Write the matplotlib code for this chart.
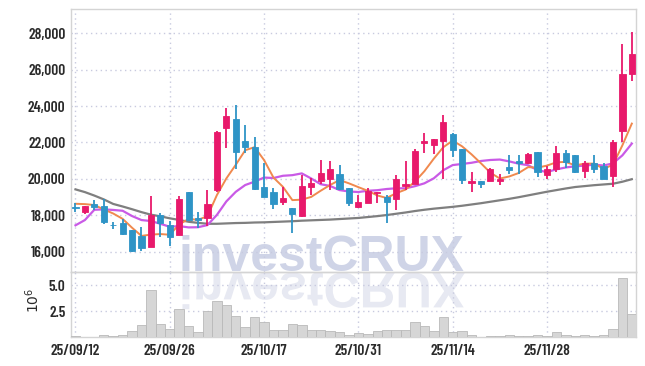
#!/usr/bin/env python3
import matplotlib
matplotlib.use("Agg")
import matplotlib.pyplot as plt
import numpy as np
from matplotlib.textpath import TextPath
from matplotlib.font_manager import FontProperties
from matplotlib.patches import PathPatch
from matplotlib.transforms import Affine2D
from matplotlib.ticker import FuncFormatter

# daily candles (index 0 = 25/09/12)
opens = [18440, 18190, 18600, 18500, 17480, 17550, 17190, 16860, 16270, 18000,
         17480, 16900, 19270, 17830, 17830, 19380, 22775, 23285, 22080, 21750,
         19550, 19260, 18740, 18395, 17955, 19570, 19900, 19975, 20265, 19495,
         18430, 18690, 19200, 18980, 18870, 19605, 19730, 21990, 21880, 22080,
         22480, 21640, 19790, 19880, 19900, 19900, 20670, 20960, 20890, 21470,
         20210, 20525, 21435, 21310, 20450, 20850, 20700, 20155, 22645, 25745]
highs = [18650, 18500, 18830, 18910, 17625, 17770, 17200, 17370, 19070, 18100,
         17660, 19070, 19300, 18160, 19380, 22600, 23870, 24050, 22955, 22300,
         20850, 19480, 19570, 18420, 20210, 20030, 21030, 21000, 20760, 19500,
         19090, 19480, 19290, 19090, 20210, 20960, 21620, 22535, 22200, 23500,
         22520, 21650, 20390, 19900, 20600, 20250, 21310, 21310, 21420, 21480,
         20700, 21820, 21580, 21320, 21000, 21310, 20880, 22130, 27390, 28060]
lows = [18190, 18060, 18290, 17515, 17260, 16930, 16000, 16050, 16250, 16780,
        16320, 16890, 17700, 17280, 17400, 19300, 21680, 20520, 21400, 19400,
        18980, 18320, 18560, 17010, 17900, 19090, 19700, 19380, 19400, 18520,
        18380, 18650, 18690, 17550, 18285, 19380, 19700, 21435, 21360, 19975,
        21215, 19700, 19290, 19480, 19880, 19660, 20265, 20265, 20800, 20085,
        19975, 20400, 20580, 20300, 20030, 20340, 20000, 19570, 22040, 25370]
closes = [18420, 18500, 18460, 17640, 17440, 16970, 16050, 16220, 18000, 17590,
          16780, 18890, 17730, 17740, 18615, 22570, 23450, 21490, 21730, 19460,
          19020, 18630, 18960, 18080, 19590, 19770, 20320, 20540, 19440, 18690,
          18725, 19320, 19260, 18740, 19990, 19730, 21525, 22095, 22190, 23120,
          21580, 19935, 19900, 19730, 20540, 19975, 20500, 20850, 21345, 20395,
          20540, 21415, 20945, 20395, 20890, 20525, 20010, 22020, 25760, 26860]

ma5 = [18630, 18610, 18560, 18320, 18094, 17802, 17312, 16864, 16936, 16966,
       16928, 17496, 17798, 17746, 17951, 19109, 20021, 20773, 21571, 21740,
       21030, 20066, 19560, 18830, 18856, 19006, 19344, 19660, 19932, 19752,
       19543, 19343, 19087, 18947, 19207, 19408, 19849, 20416, 21106, 21732,
       22102, 21784, 21345, 20853, 20337, 20016, 20129, 20319, 20642, 20613,
       20726, 20909, 20928, 20738, 20837, 20834, 20553, 20768, 21841, 23035]
ma10 = [17445, 17735, 18300, 18320, 18290, 18245, 17955, 17735, 17680, 17530,
        17365, 17404, 17331, 17341, 17459, 18019, 18759, 19286, 19659, 19846,
        20070, 20044, 20167, 20201, 20298, 20018, 19705, 19610, 19381, 19304,
        19275, 19344, 19374, 19440, 19480, 19476, 19596, 19752, 20027, 20470,
        20755, 20817, 20881, 20980, 21035, 21059, 20957, 20832, 20748, 20475,
        20371, 20519, 20624, 20690, 20725, 20780, 20731, 20848, 21290, 21936]
ma_long = [19420, 19270, 19080, 18870, 18620, 18480, 18330, 18170, 18030, 17940,
           17830, 17740, 17640, 17580, 17530, 17530, 17550, 17570, 17580, 17600,
           17610, 17630, 17650, 17670, 17700, 17720, 17740, 17760, 17790, 17820,
           17850, 17900, 17950, 18010, 18080, 18150, 18230, 18300, 18360, 18410,
           18460, 18520, 18590, 18660, 18740, 18820, 18900, 18990, 19090, 19190,
           19290, 19380, 19470, 19550, 19600, 19650, 19690, 19730, 19840, 19980]

# volume in millions of shares
volume = [0.16, 0.06, 0.06, 0.25, 0.10, 0.25, 0.60, 1.17, 4.50, 1.30,
          0.80, 2.68, 1.13, 0.55, 2.49, 3.45, 3.07, 2.10, 1.03, 2.00,
          1.52, 0.74, 0.74, 1.30, 1.20, 0.74, 0.71, 0.65, 0.55, 0.23,
          0.42, 0.33, 0.62, 0.74, 0.74, 0.74, 1.45, 1.13, 0.62, 1.93,
          0.55, 0.62, 0.23, 0.06, 0.10, 0.13, 0.23, 0.13, 0.13, 0.23,
          0.16, 0.52, 0.23, 0.16, 0.23, 0.16, 0.26, 0.81, 5.65, 2.26]

tick_pos = [0, 10, 20, 30, 40, 50]
tick_labels = ['25/09/12', '25/09/26', '25/10/17', '25/10/31', '25/11/14', '25/11/28']
price_ticks = [16000, 18000, 20000, 22000, 24000, 26000, 28000]
vol_ticks = [2.5, 5.0]

UP = '#e8196b'
DOWN = '#2e94c6'
GRID = '#c8cadf'
TXT = '#2a2a2a'
FONT = ['Barlow Condensed', 'Barlow Semi Condensed', 'Roboto Condensed', 'DejaVu Sans']

plt.rcParams['font.family'] = FONT

fig = plt.figure(figsize=(6.45, 3.66), dpi=100)
ax = fig.add_axes([0.110, 0.2568, 0.876, 0.7186])
axv = fig.add_axes([0.110, 0.0779, 0.876, 0.1789], sharex=ax)

x = np.arange(len(closes))
o = np.array(opens); c = np.array(closes)
cols = [UP if cc >= oo else DOWN for oo, cc in zip(o, c)]

ax.vlines(x, lows, highs, colors=cols, linewidth=1.3, zorder=3)
body_lo = np.minimum(o, c)
body_h = np.maximum(np.abs(c - o), 40)
ax.bar(x, body_h, bottom=body_lo, width=0.66, color=cols,
       edgecolor=cols, linewidth=0.6, zorder=4)

ax.plot(x, ma_long, color='#7f7f7f', linewidth=1.6, zorder=2)
ax.plot(x, ma10, color='#c95ae6', linewidth=1.6, zorder=2)
ax.plot(x, ma5, color='#f0894e', linewidth=1.4, zorder=2)

axv.bar(x, volume, width=1.0, color='#d6d6d6', edgecolor='#b9b9b9',
        linewidth=0.6, zorder=3)

ax.set_xlim(-0.48, 59.44)
ax.set_ylim(14880, 29330)
axv.set_ylim(0, 6.26)

ax.set_yticks(price_ticks)
ax.yaxis.set_major_formatter(FuncFormatter(lambda v, p: f'{int(v):,}'))
axv.set_yticks(vol_ticks)
axv.set_yticklabels(['2.5', '5.0'])
axv.set_xticks(tick_pos)
axv.set_xticklabels(tick_labels)
ax.tick_params(axis='x', labelbottom=False)

for a in (ax, axv):
    a.set_facecolor('none')
    a.grid(True, color=GRID, linestyle=(0, (1, 2.5)), linewidth=1.0, zorder=0)
    a.set_axisbelow(True)
    a.tick_params(length=0, pad=4, labelsize=11, labelcolor=TXT)
    for s in a.spines.values():
        s.set_color('#d4d4d4')
        s.set_linewidth(1.0)
    for lab in a.get_xticklabels() + a.get_yticklabels():
        lab.set_fontweight('semibold')
axv.tick_params(axis='x', pad=5)

fig.text(33 / 645, 1 - 300 / 366, '10$^6$', rotation=90, ha='center',
         va='center', fontsize=10, color=TXT, family='DejaVu Sans')

# watermark and its reflection
wm_prop = FontProperties(family='Liberation Sans', weight='bold')
fig.text(179 / 645, 1 - 271 / 366, 'investCRUX', fontproperties=wm_prop,
         fontsize=36, color='#cfd4e7', ha='left', va='baseline', zorder=-1)
tp = TextPath((0, 0), 'investCRUX', size=50, prop=wm_prop)
tr = Affine2D().scale(1 / 100, -1 / 100).translate(1.79, (366 - 273) / 100) + fig.dpi_scale_trans
fig.add_artist(PathPatch(tp, transform=tr, facecolor='#e7e9f2',
                         edgecolor='none', zorder=-1))

fig.savefig('out.png', dpi=100)
